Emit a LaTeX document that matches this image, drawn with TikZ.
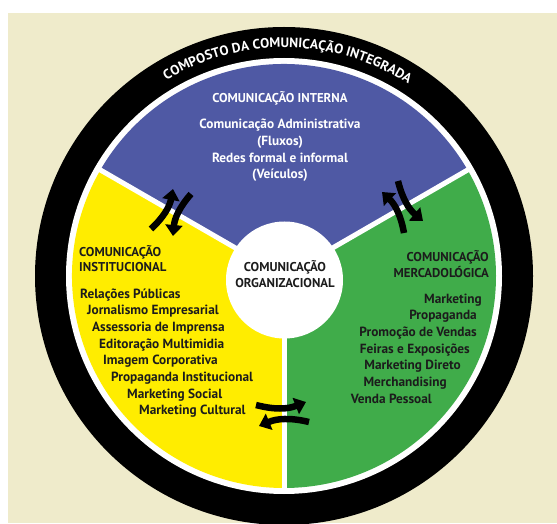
\documentclass[tikz,border=0pt]{standalone}
\usepackage{fontspec}
\setmainfont{PT Sans}
\usetikzlibrary{arrows.meta,decorations.text}

\definecolor{paper}{RGB}{239,235,203}
\definecolor{internal}{RGB}{79,89,164}
\definecolor{institutional}{RGB}{255,237,0}
\definecolor{market}{RGB}{64,172,74}
\definecolor{ink}{RGB}{28,28,28}

\begin{document}
\begin{tikzpicture}[
		x=1pt, y=1pt,
		itemtext/.style={font=\bfseries\fontsize{13.3}{16}\selectfont, inner sep=0pt, text=ink},
		headtext/.style={font=\bfseries\fontsize{12.8}{16}\selectfont, inner sep=0pt, text=ink},
		divider/.style={white, line width=5pt},
		flow/.style={line width=6.5pt, -{Triangle[length=11pt,width=17pt]}, bend right=18},
	]
		\useasboundingbox (0,0) rectangle (557,523);
		\fill[paper] (8,0) rectangle (557,510);

		\coordinate (O) at (284,247);
		% outer ring
		\fill[black] (O) circle[radius=249];
		\fill[white] (O) circle[radius=218];
		\path[decorate, decoration={text along path, text align=center, text color=white,
			text={|\bfseries\fontsize{13.6}{14}\selectfont|COMPOSTO DA COMUNICAÇÃO INTEGRADA}}]
			([shift={(123:228.5)}]O) arc[start angle=123, end angle=55, radius=228.5];

		% the three sectors
		\fill[internal] (O) -- ++(30:212) arc[start angle=30, end angle=150, radius=212] -- cycle;
		\fill[institutional] (O) -- ++(150:212) arc[start angle=150, end angle=270, radius=212] -- cycle;
		\fill[market] (O) -- ++(270:212) arc[start angle=270, end angle=390, radius=212] -- cycle;
		\foreach \a in {30,150,270}
			\draw[divider] (O) -- ++(\a:214);
		\node[circle, fill=white, minimum size=117pt, inner sep=0pt] (org) at (284.5,243) {};

		% centre
		\node[headtext, anchor=base] (org1) at (285,251.5) {COMUNICAÇÃO};
		\node[headtext, anchor=base] (org2) at (285,235.5) {ORGANIZACIONAL};

		% internal
		\node[headtext, text=white, anchor=base] (int) at (280,420.5) {COMUNICAÇÃO INTERNA};
		\foreach \txt/\dy [count=\i] in {Comunicação Administrativa/394.5, (Fluxos)/377.5,
				Redes formal e informal/360.5, (Veículos)/344.5}
			\node[itemtext, text=white, anchor=base] (int-\i) at (280,\dy) {\txt};

		% institutional
		\node[headtext, anchor=base west] (inst) at (79,266.5) {COMUNICAÇÃO};
		\node[headtext, anchor=base west] (inst2) at (79,251.5) {INSTITUCIONAL};
		\foreach \txt/\dx [count=\i from 0] in {Relações Públicas/80, Jornalismo Empresarial/87,
				Assessoria de Imprensa/92, Editoração Multimidia/99, Imagem Corporativa/103,
				Propaganda Institucional/111, Marketing Social/127, Marketing Cultural/139}
			\node[itemtext, anchor=base west] (inst-\i) at (\dx,225-16.7*\i) {\txt};

		% market
		\node[headtext, anchor=base east] (mkt) at (489,261.5) {COMUNICAÇÃO};
		\node[headtext, anchor=base east] (mkt2) at (489,245.5) {MERCADOLÓGICA};
		\foreach \txt/\dx [count=\i from 0] in {Marketing/482, Propaganda/477,
				Promoção de Vendas/477, Feiras e Exposições/470, Marketing Direto/461,
				Merchandising/447, Venda Pessoal/432}
			\node[itemtext, anchor=base east] (mkt-\i) at (\dx,220-16.7*\i) {\txt};

		% exchange arrows
		\coordinate (iu1) at (151,294);
		\coordinate (iu2) at (173,334);
		\coordinate (id1) at (191,329);
		\coordinate (id2) at (173,287);
		\coordinate (mu1) at (404,290);
		\coordinate (mu2) at (382,331);
		\coordinate (md1) at (398,342);
		\coordinate (md2) at (423,302);
		\coordinate (br1) at (256,118);
		\coordinate (br2) at (306,121);
		\coordinate (bl1) at (309,101);
		\coordinate (bl2) at (259,97);
		\draw[flow] (iu1) to (iu2);
		\draw[flow] (id1) to (id2);
		\draw[flow] (mu1) to (mu2);
		\draw[flow] (md1) to (md2);
		\draw[flow] (br1) to (br2);
		\draw[flow] (bl1) to (bl2);
	\end{tikzpicture}
\end{document}
